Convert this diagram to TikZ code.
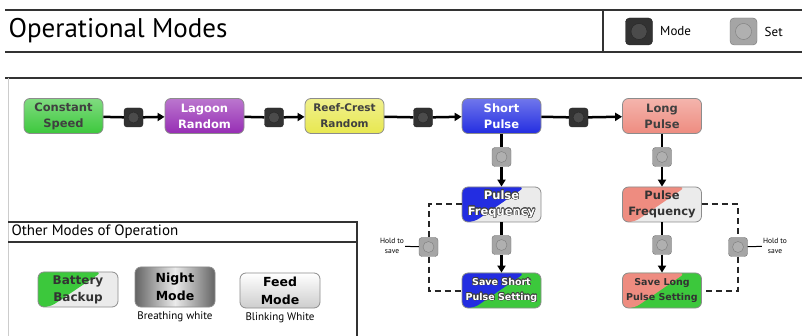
\documentclass[tikz,border=0pt]{standalone}
\usepackage{fontspec}
\setmainfont{PT Sans}
\newfontfamily\boxfont{DejaVu Sans}
\usepackage{contour}
\contourlength{0.6pt}
\usetikzlibrary{arrows.meta, positioning, calc}

\definecolor{cgreen}{RGB}{60,200,60}
\definecolor{cpurple}{RGB}{150,45,180}
\definecolor{cyellow}{RGB}{232,232,80}
\definecolor{cblue}{RGB}{35,45,225}
\definecolor{csalmon}{RGB}{238,140,128}
\definecolor{ckey}{RGB}{50,50,50}
\definecolor{cset}{RGB}{165,165,165}
\definecolor{cnight}{RGB}{100,100,100}
\definecolor{cfeed}{RGB}{205,205,205}

\newcommand{\outl}[1]{\contour{black!75}{#1}}

\begin{document}
\begin{tikzpicture}[x=1pt, y=-1pt,
    modebox/.style={rectangle, rounded corners=6pt, draw=black!45, line width=0.8pt,
        minimum width=79pt, minimum height=35pt, inner sep=0pt, align=center,
        font=\boxfont\fontsize{11.5}{16}\selectfont\bfseries, top color=#1!65!white, bottom color=#1},
    splitbox/.style 2 args={rectangle, rounded corners=6pt, draw=black!45, line width=0.8pt,
        minimum width=79pt, minimum height=35pt, inner sep=0pt, align=center,
        font=\boxfont\fontsize{11.5}{16}\selectfont\bfseries, fill=#2,
        path picture={\fill[#1] (path picture bounding box.north west)
            -- ([xshift=-16pt]path picture bounding box.north east)
            -- ([xshift=12pt]path picture bounding box.south west)
            -- (path picture bounding box.south west) -- cycle;}},
    keybtn/.style={rectangle, rounded corners=3pt, minimum size=19pt, inner sep=0pt,
        fill=#1, draw=#1!70!black,
        path picture={\fill[#1!88!white, draw=#1!75!black] (path picture bounding box.center) circle (5.5pt);}},
    bigkey/.style={keybtn=#1, minimum size=27pt, rounded corners=4pt,
        path picture={\fill[#1!88!white, draw=#1!75!black] (path picture bounding box.center) circle (8pt);}},
    link/.style={line width=2.5pt},
    flow/.style={line width=2.5pt, -{Triangle[length=7pt, width=8pt]}},
    holdline/.style={line width=2pt, dash pattern=on 6pt off 4pt, black!85},
    rule/.style={line width=1.8pt, black!80}
]
\useasboundingbox (0,0) rectangle (802,336);

\draw[rule] (5,10) -- (802,10);
\draw[rule] (5,52) -- (802,52);
\draw[rule] (603,10) -- (603,52);
\draw[rule] (5,78) -- (802,78);
\draw[black!20, line width=1pt] (8,78) -- (8,336);

\node[anchor=west, font=\fontsize{27}{30}\selectfont] (title) at (5,31) {Operational Modes};
\node[bigkey=ckey] (lm) at (639,31.5) {};
\node[right=4pt of lm, font=\fontsize{13}{15}\selectfont] (lmt) {Mode};
\node[bigkey=cset] (ls) at (743.5,31.5) {};
\node[right=4pt of ls, font=\fontsize{13}{15}\selectfont] (lst) {Set};

\node[modebox=cgreen, text=black!75] (cs) at (63.5,116) {Constant\\Speed};
\node[modebox=cpurple, text=white] (lr) at (204.5,116) {Lagoon\\Random};
\node[modebox=cyellow, text=black!75, font=\boxfont\fontsize{10.5}{16}\selectfont\bfseries] (rc) at (344.5,116) {Reef-Crest\\Random};
\node[modebox=cblue, text=white] (sp) at (501.5,116) {Short\\Pulse};
\node[modebox=csalmon, text=black!75] (lp) at (662,116) {Long\\Pulse};

\node[keybtn=ckey] (m1) at (133.5,117.5) {};
\node[keybtn=ckey] (m2) at (274,117.5) {};
\node[keybtn=ckey] (m3) at (423,117.5) {};
\node[keybtn=ckey] (m4) at (578.5,117.5) {};

\draw[link] (cs) -- (m1);
\draw[flow] (m1) -- (lr);
\draw[link] (lr) -- (m2);
\draw[flow] (m2) -- (rc);
\draw[link] (rc) -- (m3);
\draw[flow] (m3) -- (sp);
\draw[link] (sp) -- (m4);
\draw[flow] (m4) -- (lp);

\node[keybtn=cset] (s1) at (501.5,157) {};
\node[splitbox={cblue}{black!8}, text=white] (pf1) at (501.5,204.5) {\outl{Pulse}\\\outl{Frequency}};
\node[keybtn=cset] (s2) at (501.5,245) {};
\node[splitbox={cblue}{cgreen}, text=white, font=\boxfont\fontsize{9.5}{15}\selectfont\bfseries] (sv1) at (501.5,290.5) {\outl{Save Short}\\\outl{Pulse Setting}};

\node[keybtn=cset] (s3) at (662,157) {};
\node[splitbox={csalmon}{black!8}, text=black!80] (pf2) at (662,204.5) {Pulse\\Frequency};
\node[keybtn=cset] (s4) at (662,245) {};
\node[splitbox={csalmon}{cgreen}, text=black!80, font=\boxfont\fontsize{9.5}{15}\selectfont\bfseries] (sv2) at (662,290.5) {Save Long\\Pulse Setting};

\draw[link] (sp) -- (s1);
\draw[flow] (s1) -- (pf1);
\draw[link] (pf1) -- (s2);
\draw[flow] (s2) -- (sv1);
\draw[link] (lp) -- (s3);
\draw[flow] (s3) -- (pf2);
\draw[link] (pf2) -- (s4);
\draw[flow] (s4) -- (sv2);

\node[keybtn=cset] (h1) at (428.5,247) {};
\node[keybtn=cset] (h2) at (738,247) {};
\draw[holdline] (pf1.west) -| (h1.north);
\draw[holdline] (h1.south) |- (sv1.west);
\draw[holdline] (pf2.east) -| (h2.north);
\draw[holdline] (h2.south) |- (sv2.east);

\node[font=\fontsize{7.5}{10.5}\selectfont, align=center, inner sep=1pt] (hl1) at (392,246) {Hold to\\save};
\node[font=\fontsize{7.5}{10.5}\selectfont, align=center, inner sep=1pt] (hl2) at (775,246) {Hold to\\save};
\draw[line width=1pt] (hl1) -- (h1);
\draw[line width=1pt] (h2) -- (hl2);

\draw[rule] (8,222) -- (357,222) -- (357,336);
\draw[rule] (8,242) -- (357,242);
\node[anchor=west, font=\fontsize{15}{18}\selectfont] (other) at (8,232) {Other Modes of Operation};

\node[splitbox={cgreen}{black!8}, text=black!80, minimum width=80pt, font=\boxfont\fontsize{12}{17}\selectfont\bfseries] (bb) at (78,289.5) {Battery\\Backup};
\node[modebox=cnight, left color=cnight, right color=cnight, middle color=black!8, text=black, minimum width=80pt, minimum height=40pt, font=\boxfont\fontsize{12.5}{18}\selectfont\bfseries] (nm) at (175,287) {Night\\Mode};
\node[modebox=cfeed, top color=white, bottom color=cfeed, text=black, minimum width=80pt, font=\boxfont\fontsize{12.5}{18}\selectfont\bfseries] (fm) at (280,290.5) {Feed\\Mode};
\node[below=3pt of nm, font=\fontsize{11}{13}\selectfont, inner sep=1pt] (nmlbl) {Breathing white};
\node[below=3pt of fm, font=\fontsize{11}{13}\selectfont, inner sep=1pt] (fmlbl) {Blinking White};
\end{tikzpicture}
\end{document}
